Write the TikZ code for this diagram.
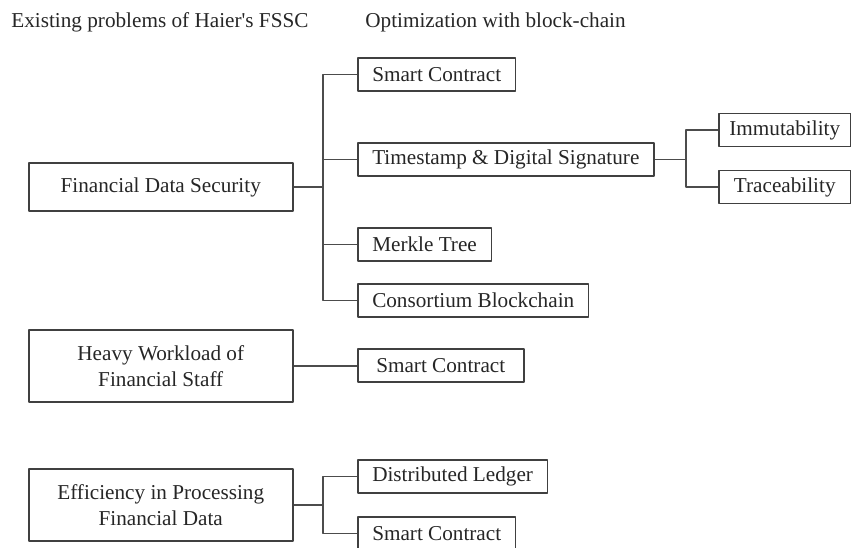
\documentclass[tikz,border=0pt]{standalone}
\usepackage{fontspec}
\setmainfont{Liberation Serif}
\begin{document}
\begin{tikzpicture}[x=0.5pt,y=-0.5pt,font=\fontsize{10.6}{12.7}\selectfont, line join=round,
	prob/.style={draw=black!75,line width=0.75pt,align=center,minimum width=132pt,text=black!85,anchor=west},
	opt/.style={draw=black!75,line width=0.75pt,inner xsep=7.25pt,minimum height=16.5pt,text=black!85,anchor=west},
	link/.style={draw=black!70,line width=0.75pt}]
		\useasboundingbox (0,0) rectangle (851,547);
		\node[anchor=west,inner sep=0,text=black!85] (t1) at (11,22) {Existing problems of Haier\textquotesingle s FSSC};
		\node[anchor=west,inner sep=0,text=black!85] (t2) at (365,22) {Optimization with block-chain};
		% problems
		\node[prob,minimum height=24pt] (fds) at (28,187) {Financial Data Security};
		\node[prob,minimum height=36pt] (hw) at (28,366) {Heavy Workload of\\Financial Staff};
		\node[prob,minimum height=36pt] (eff) at (28,505) {Efficiency in Processing\\Financial Data};
		% optimizations
		\node[opt] (sc1) at (357,74.5) {Smart Contract};
		\node[opt] (ts) at (357,159.5) {Timestamp \& Digital Signature};
		\node[opt] (mt) at (357,244.5) {Merkle Tree};
		\node[opt] (cb) at (357,300.5) {Consortium Blockchain};
		\node[opt,inner xsep=4pt,minimum width=66pt] (imm) at (718,130) {Immutability};
		\node[opt,inner xsep=4pt,minimum width=66pt] (tra) at (718,187) {Traceability};
		\node[opt,minimum width=83pt] (sc2) at (357,365.5) {Smart Contract};
		\node[opt] (dl) at (357,476.5) {Distributed Ledger};
		\node[opt] (sc3) at (357,533.5) {Smart Contract};
		% links
		\coordinate (j1) at (323,187);
		\draw[link] (fds.east) -- (j1);
		\foreach \n in {sc1,ts,mt,cb} \draw[link] (j1) |- (\n.west);
		\coordinate (j2) at (686,159.5);
		\draw[link] (ts.east) -- (j2);
		\foreach \n in {imm,tra} \draw[link] (j2) |- (\n.west);
		\draw[link] (hw.east) -- (hw.east -| sc2.west);
		\coordinate (j3) at (323,505);
		\draw[link] (eff.east) -- (j3);
		\foreach \n in {dl,sc3} \draw[link] (j3) |- (\n.west);
\end{tikzpicture}
\end{document}
